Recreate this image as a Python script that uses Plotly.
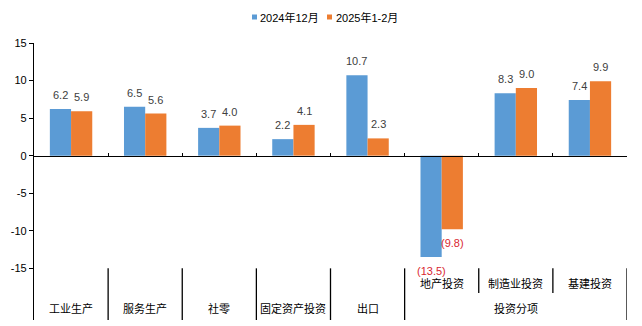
import plotly.graph_objects as go

# Data
categories = ["工业生产", "服务生产", "社零", "固定资产投资", "出口", "地产投资", "制造业投资", "基建投资"]
series_names = ["2024年12月", "2025年1-2月"]
dec_2024 = [6.2, 6.5, 3.7, 2.2, 10.7, -13.5, 8.3, 7.4]
jan_feb_2025 = [5.9, 5.6, 4.0, 4.1, 2.3, -9.8, 9.0, 9.9]
group_label = "投资分项"
grouped_cats = ["地产投资", "制造业投资", "基建投资"]
y_ticks = [-15, -10, -5, 0, 5, 10, 15]

# Styling
COLORS = ["#5B9BD5", "#ED7D31"]
LABEL_GRAY = "#404040"
NEG_RED = "#D9262F"
FONT = "Arial, 'Liberation Sans', 'Noto Sans CJK SC', sans-serif"
W, H = 642, 326
ML, MR, MT, MB = 34, 15, 43, 6
Y_MIN, Y_MAX = -21.88, 15

plot_w = W - ML - MR
plot_h = H - MT - MB
px_per_unit = plot_h / (Y_MAX - Y_MIN)


def px_to_y(py):
    """Pixel row -> data y value."""
    return Y_MAX - (py - MT) / px_per_unit


def px_to_paper(px, py):
    return (px - ML) / plot_w, (H - MB - py) / plot_h


fig = go.Figure()
for name, vals, col in zip(series_names, [dec_2024, jan_feb_2025], COLORS):
    fig.add_trace(go.Bar(
        x=categories, y=vals, name=name,
        marker=dict(color=col, line=dict(width=0)),
        showlegend=False, hoverinfo="skip",
    ))

# Value labels above positive bars, bracketed red labels below negative bars
bar_half = 0.286 / 2 * (plot_w / len(categories))
annotations = []
for s, vals in enumerate([dec_2024, jan_feb_2025]):
    xs = -bar_half if s == 0 else bar_half
    for cat, v in zip(categories, vals):
        if v >= 0:
            txt, col, ys = f"{v:.1f}", LABEL_GRAY, 14
        else:
            txt, col, ys = f"({abs(v):.1f})", NEG_RED, -14
        annotations.append(dict(
            x=cat, y=v, xref="x", yref="y", text=txt, showarrow=False,
            xshift=xs, yshift=ys, xanchor="center", yanchor="middle",
            font=dict(family=FONT, size=11, color=col),
        ))

# Category labels underneath the chart
for cat in categories:
    if cat in grouped_cats:
        y_lab = px_to_y(283)
    else:
        y_lab = px_to_y(308)
    annotations.append(dict(
        x=cat, y=y_lab, xref="x", yref="y", text=cat, showarrow=False,
        xanchor="center", yanchor="middle",
        font=dict(family=FONT, size=11, color="#000000"),
    ))
grp_idx = [categories.index(c) for c in grouped_cats]
annotations.append(dict(
    x=(grp_idx[0] + grp_idx[-1]) / 2, y=px_to_y(308), xref="x", yref="y",
    text=group_label, showarrow=False, xanchor="center", yanchor="middle",
    font=dict(family=FONT, size=11, color="#000000"),
))

# Divider lines in the label area
shapes = []
n = len(categories)
for i in range(n):
    bx = i + 0.5
    right_cat = categories[i + 1] if i + 1 < n else None
    if right_cat in grouped_cats and categories[i] in grouped_cats:
        y_end = px_to_y(293)
    else:
        y_end = Y_MIN
    shapes.append(dict(type="line", xref="x", yref="y", x0=bx, x1=bx,
                       y0=-15, y1=y_end, line=dict(color="#000000", width=1.3)))

# Legend: small colour squares with text
legend_items = [(252, 258), (327, 334)]
for (sq_x, tx_x), name, col in zip(legend_items, series_names, COLORS):
    x0, y0 = px_to_paper(sq_x, 19.5)
    x1, y1 = px_to_paper(sq_x + 5, 14.5)
    shapes.append(dict(type="rect", xref="paper", yref="paper",
                       x0=x0, x1=x1, y0=y0, y1=y1,
                       fillcolor=col, line=dict(width=0)))
    tx, ty = px_to_paper(tx_x, 17)
    annotations.append(dict(
        x=tx, y=ty, xref="paper", yref="paper", text=name, showarrow=False,
        xanchor="left", yanchor="middle",
        font=dict(family=FONT, size=11, color="#000000"),
    ))

fig.update_layout(
    width=W, height=H,
    margin=dict(l=ML, r=MR, t=MT, b=MB, pad=0),
    paper_bgcolor="white", plot_bgcolor="white",
    barmode="group", bargap=0.428, bargroupgap=0,
    font=dict(family=FONT, size=11, color="#000000"),
    annotations=annotations, shapes=shapes,
    showlegend=False,
    xaxis=dict(
        type="category", range=[-0.5, n - 0.5],
        anchor="free", position=(0 - Y_MIN) / (Y_MAX - Y_MIN),
        showline=True, linecolor="#000000", linewidth=1.3,
        ticks="inside", ticklen=3, tickcolor="#000000", tickwidth=1,
        tickson="boundaries", showticklabels=False,
        showgrid=False, zeroline=False, fixedrange=True,
    ),
    yaxis=dict(
        range=[Y_MIN, Y_MAX], tickvals=y_ticks,
        ticktext=[str(t) for t in y_ticks],
        showline=True, linecolor="#000000", linewidth=1.3,
        ticks="outside", ticklen=4, tickcolor="#000000",
        showgrid=False, zeroline=False,
        tickfont=dict(family=FONT, size=11, color="#000000"),
        fixedrange=True,
    ),
)

fig.write_html("out.html", config=dict(displayModeBar=False))
